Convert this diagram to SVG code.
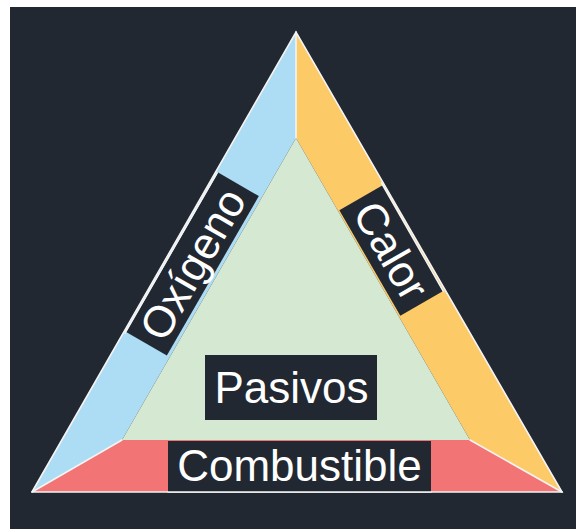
<svg xmlns="http://www.w3.org/2000/svg" width="576" height="529" viewBox="0 0 576 529">
<style>
.lbl{font-family:"Liberation Sans",Arial,sans-serif;font-size:44px;fill:#ffffff;text-anchor:middle}
.box{fill:#222831}
.edge{stroke:#f4f4f4;stroke-width:1.6;fill:none;stroke-linecap:round}
</style>
<rect x="0" y="0" width="576" height="529" fill="#ffffff"/>
<rect x="10" y="7" width="566" height="522" fill="#222831"/>
<g id="oxigeno">
<polygon points="32,492 296,32 296,138 122,440" fill="#addcf5"/>
</g>
<g id="calor">
<polygon points="296,32 562,492 470,440 296,138" fill="#fdca68"/>
</g>
<g id="combustible">
<polygon points="32,492 562,492 470,440 122,440" fill="#f27474"/>
</g>
<g id="pasivos">
<polygon points="122,440 296,138 470,440" fill="#d5e8d1"/>
</g>
<g id="connectors">
<polyline class="edge" points="32,492 296,32 562,492 32,492"/>
<line class="edge" x1="296" y1="32" x2="296" y2="138"/>
<line class="edge" x1="32" y1="492" x2="122" y2="440"/>
<line class="edge" x1="562" y1="492" x2="470" y2="440"/>
</g>
<g id="label-oxigeno" transform="translate(192.5,264) rotate(-60)">
<rect class="box" x="-92" y="-23.5" width="184" height="47"/>
<text class="lbl" x="0" y="15.5">Oxígeno</text>
</g>
<line class="edge" x1="125" y1="333" x2="217" y2="173"/>
<g id="label-calor" transform="translate(391.5,250.5) rotate(60)">
<rect class="box" x="-61" y="-25" width="122" height="50"/>
<text class="lbl" x="0" y="15.5">Calor</text>
</g>
<line class="edge" x1="381.5" y1="183" x2="443.5" y2="291.5"/>
<g id="label-pasivos">
<rect class="box" x="205" y="355" width="172" height="65"/>
<text class="lbl" x="291.5" y="403">Pasivos</text>
</g>
<g id="label-combustible">
<rect class="box" x="168" y="441" width="263" height="51"/>
<text class="lbl" x="299.5" y="481">Combustible</text>
</g>
<line class="edge" x1="168" y1="492" x2="431" y2="492"/>
</svg>
